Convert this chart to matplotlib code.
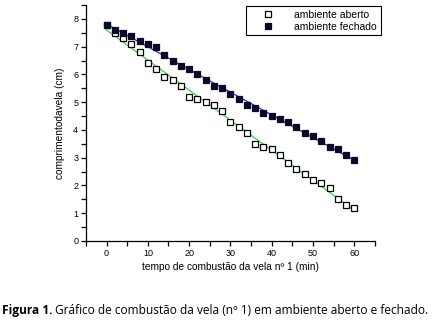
import numpy as np
import matplotlib
matplotlib.use('Agg')
import matplotlib.pyplot as plt
from matplotlib.ticker import MultipleLocator

# tempo (min) e comprimento da vela (cm)
tempo = [0, 2, 4, 6, 8, 10, 12, 14, 16, 18, 20, 22, 24, 26, 28, 30,
         32, 34, 36, 38, 40, 42, 44, 46, 48, 50, 52, 54, 56, 58, 60]
aberto = [7.8, 7.5, 7.3, 7.1, 6.8, 6.4, 6.2, 5.9, 5.8, 5.6, 5.2, 5.1, 5.0, 4.9, 4.7, 4.3,
          4.1, 3.9, 3.5, 3.4, 3.3, 3.1, 2.8, 2.6, 2.4, 2.2, 2.1, 1.9, 1.5, 1.3, 1.2]
fechado = [7.8, 7.6, 7.5, 7.4, 7.2, 7.1, 7.0, 6.7, 6.5, 6.3, 6.2, 6.0, 5.8, 5.6, 5.5, 5.3,
           5.1, 4.9, 4.8, 4.6, 4.5, 4.4, 4.3, 4.1, 3.9, 3.8, 3.6, 3.4, 3.3, 3.1, 2.9]

xticks = [0, 10, 20, 30, 40, 50, 60]
yticks = [0, 1, 2, 3, 4, 5, 6, 7, 8]

plt.rcParams['font.family'] = ['Liberation Sans', 'DejaVu Sans']

fig = plt.figure(figsize=(4.36, 3.2), dpi=100)
ax = fig.add_axes([0.197, 0.247, 0.663, 0.737])

t = np.array(tempo)
# retas de ajuste linear
pa = np.polyfit(t, aberto, 1)
pf = np.polyfit(t, fechado, 1)
ax.plot(t, np.polyval(pa, t), color='#3ad23a', lw=0.9, zorder=2)
ax.plot(t, np.polyval(pf, t), color='#2a2ab8', lw=0.9, zorder=2)

ax.plot(tempo, aberto, 's', ms=3.7, mfc='white', mec='black', mew=0.9,
        label='ambiente aberto', zorder=3)
ax.plot(tempo, fechado, 's', ms=3.7, mfc='#0a0a28', mec='#0a0a28', mew=0.9,
        label='ambiente fechado', zorder=3)

ax.set_xlim(-5, 65)
ax.set_ylim(0, 8.5)
ax.set_xticks(xticks)
ax.set_yticks(yticks)
ax.xaxis.set_minor_locator(MultipleLocator(5))
ax.yaxis.set_minor_locator(MultipleLocator(0.5))
ax.tick_params(which='both', direction='out', length=3.5, width=0.9, labelsize=6.5, pad=2)
ax.spines['top'].set_visible(False)
ax.spines['right'].set_visible(False)
ax.spines['left'].set_linewidth(0.9)
ax.spines['bottom'].set_linewidth(0.9)

ax.set_xlabel('tempo de combustão da vela nº 1 (min)', fontsize=7.3, labelpad=3)
ax.set_ylabel('comprimentodavela (cm)', fontsize=7.3, labelpad=6)

leg = ax.legend(loc='upper right', bbox_to_anchor=(1.03, 1.01), fancybox=False,
                edgecolor='black', framealpha=1, handletextpad=0.7,
                borderpad=0.35, borderaxespad=0.3, labelspacing=0.2, handlelength=3.6,
                prop={'size': 7.5})
leg.get_frame().set_linewidth(0.8)

# legenda da figura
t1 = fig.text(0.005, 0.018, 'Figura 1.', fontsize=8.6, fontweight='bold',
              va='baseline', family=['Open Sans', 'DejaVu Sans'])
fig.canvas.draw()
bb = t1.get_window_extent()
x2 = bb.x1 / fig.bbox.width + 0.006
fig.text(x2, 0.018, 'Gráfico de combustão da vela (nº 1) em ambiente aberto e fechado.',
         fontsize=8.6, va='baseline', family=['Open Sans', 'DejaVu Sans'])

fig.savefig('out.png', dpi=100)
